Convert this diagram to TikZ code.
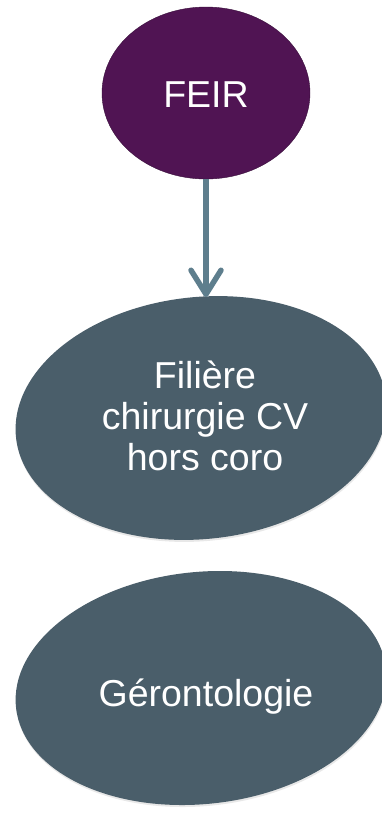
\documentclass[tikz,border=0pt]{standalone}
\usepackage{fontspec}
\setmainfont{Liberation Sans}
\usetikzlibrary{shapes.geometric,arrows.meta,shadows}
\definecolor{feirpurple}{HTML}{501453}
\definecolor{slate}{HTML}{4A5E6A}
\definecolor{arrowcol}{HTML}{5E7E8D}
\begin{document}
\begin{tikzpicture}[x=1pt,y=-1pt,
  blob/.style={ellipse, fill=slate, inner sep=0pt, draw=none,
    drop shadow={opacity=0.18, shadow xshift=0.5pt, shadow yshift=-2pt}},
  lbl/.style={text=white, font=\fontsize{37.5}{41}\selectfont, align=center, inner sep=0pt},
  conn/.style={draw=arrowcol, line width=5.5pt,
    -{Straight Barb[length=24pt,width=30pt,round]}}]
\useasboundingbox (0,0) rectangle (382,815);
\fill[white] (0,0) rectangle (382,815);
\node[ellipse, fill=feirpurple, draw=feirpurple!70!black, line width=0.4pt,
  minimum width=208pt, minimum height=172pt, inner sep=0pt] (feir) at (206,93) {};
\node[lbl, anchor=base] (feirt) at (206,107) {FEIR};
\node[blob, minimum width=372pt, minimum height=242pt, rotate=6] (fil) at (201,418) {};
\node[lbl] (filt) at (205,416) {Filière\\chirurgie CV\\hors coro};
\node[blob, minimum width=372pt, minimum height=232pt, rotate=6] (ger) at (201,688) {};
\node[lbl, anchor=base] (gert) at (206,706) {Gérontologie};
\coordinate (tip) at (206,297);
\draw[conn] (feir.south) -- (tip);
\end{tikzpicture}
\end{document}
